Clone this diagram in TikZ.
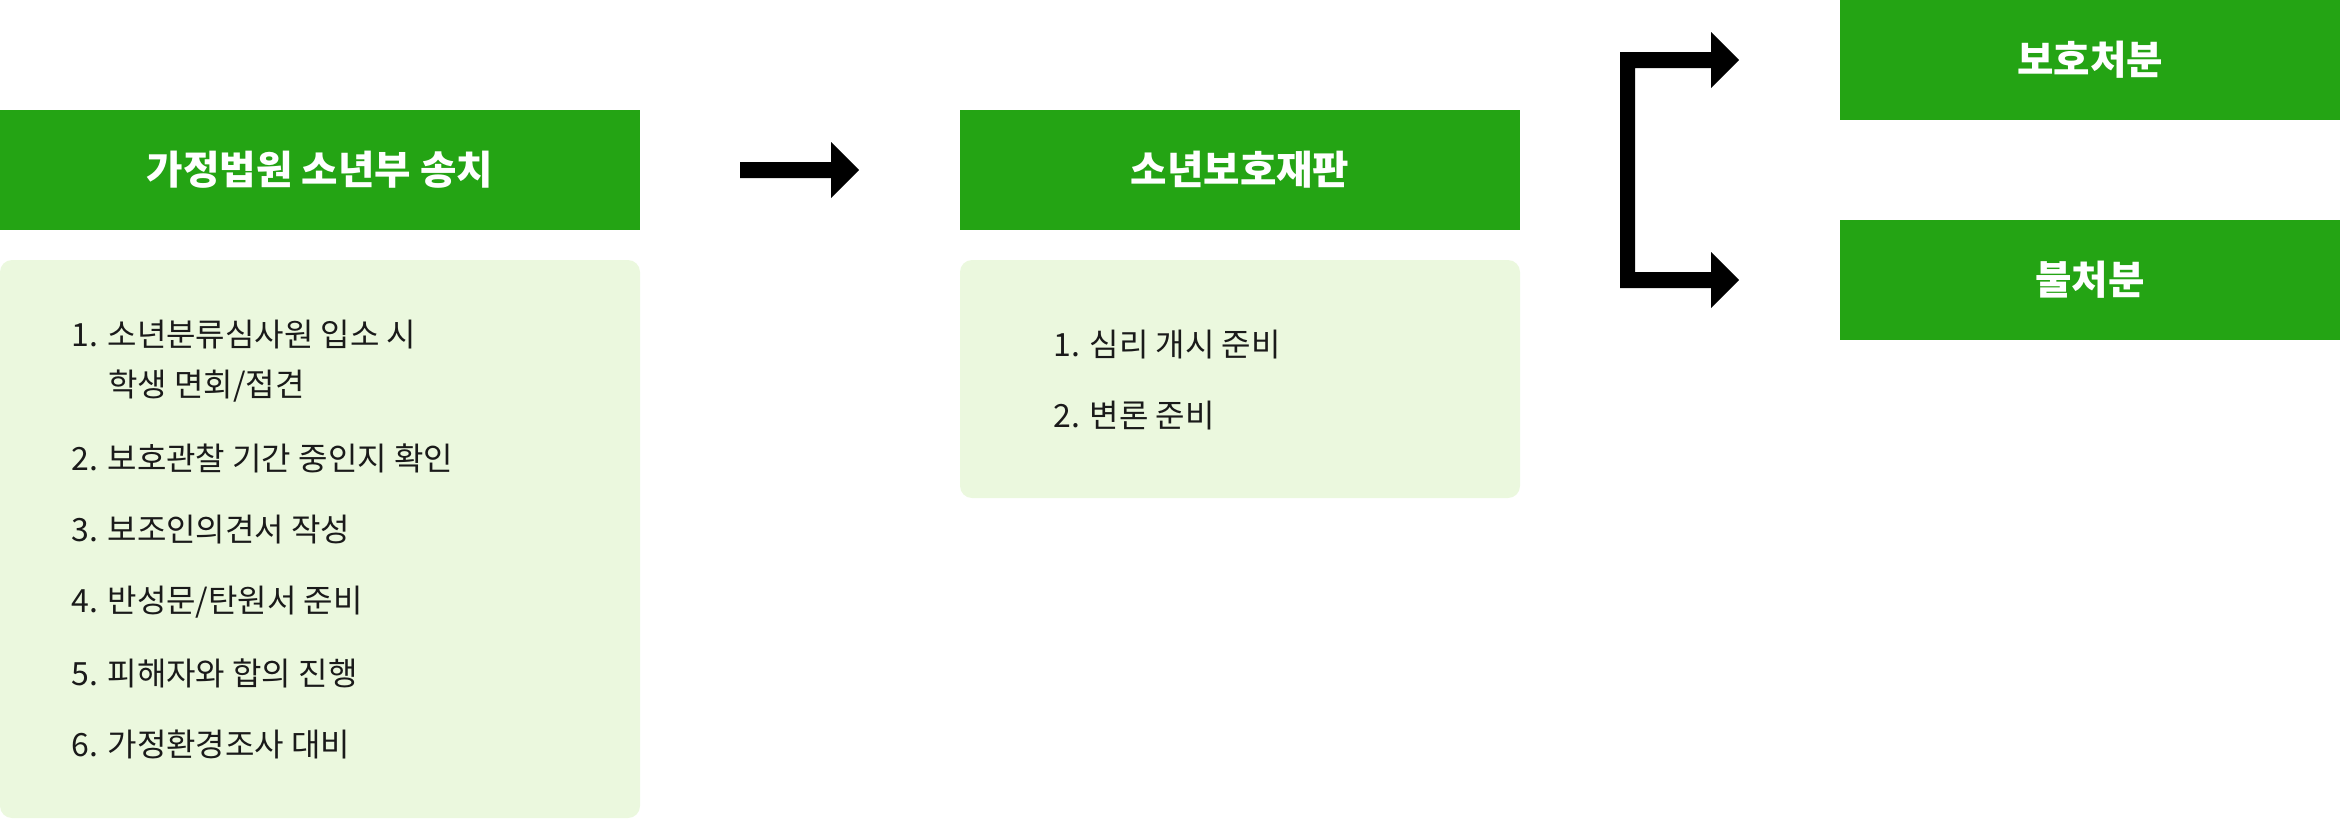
\documentclass[tikz,border=0pt]{standalone}
\usepackage{fontspec}
\newfontfamily\kr{Noto Sans CJK KR}
\definecolor{hdgreen}{RGB}{36,164,20}
\definecolor{lightgreen}{RGB}{235,248,222}
\definecolor{bodytext}{RGB}{26,26,26}
\begin{document}
\begin{tikzpicture}[x=0.5pt,y=-0.5pt,
  header/.style={fill=hdgreen,draw=none,inner sep=0pt,text=white,font=\kr\bfseries\fontsize{19.8}{24}\selectfont},
  panel/.style={fill=lightgreen,draw=none,rounded corners=6pt},
  item/.style={anchor=west,inner sep=0pt,text=bodytext,font=\kr\fontsize{16}{19}\selectfont},
  blockarrow/.style={fill=black,draw=none}]
\useasboundingbox (0,0) rectangle (2340,820);
% header boxes
\fill[hdgreen] (0,110) rectangle (640,230);
\node[header] (h1) at (320,170) {가정법원 소년부 송치};
\fill[hdgreen] (960,110) rectangle (1520,230);
\node[header] (h2) at (1240,170) {소년보호재판};
\fill[hdgreen] (1840,0) rectangle (2340,120);
\node[header] (h3) at (2090,60) {보호처분};
\fill[hdgreen] (1840,220) rectangle (2340,340);
\node[header] (h4) at (2090,280) {불처분};
% panels
\fill[panel] (0,260) rectangle (640,818);
\fill[panel] (960,260) rectangle (1520,498);
% items of panel 1
\node[item] (a1) at (71,335) {1. 소년분류심사원 입소 시};
\node[item] (a1b) at (108,386) {학생 면회/접견};
\node[item] (a2) at (71,458) {2. 보호관찰 기간 중인지 확인};
\node[item] (a3) at (71,530) {3. 보조인의견서 작성};
\node[item] (a4) at (71,602) {4. 반성문/탄원서 준비};
\node[item] (a5) at (71,673) {5. 피해자와 합의 진행};
\node[item] (a6) at (71,744) {6. 가정환경조사 대비};
% items of panel 2
\node[item] (b1) at (1053,345) {1. 심리 개시 준비};
\node[item] (b2) at (1053,416) {2. 변론 준비};
% arrow between stages
\coordinate (s1) at (740,170);
\fill[blockarrow] (s1) ++(0,-8) -- ++(91,0) -- ++(0,-20) -- (859,170) -- (831,198) -- (831,178) -- (740,178) -- cycle;
% branching bracket arrow
\coordinate (br) at (1620,52);
\fill[blockarrow] (br) -- (1711,52) -- (1711,32) -- (1739,60) -- (1711,88) -- (1711,68)
  -- (1635,68) -- (1635,272) -- (1711,272) -- (1711,252) -- (1739,280) -- (1711,308)
  -- (1711,288) -- (1620,288) -- cycle;
\end{tikzpicture}
\end{document}
